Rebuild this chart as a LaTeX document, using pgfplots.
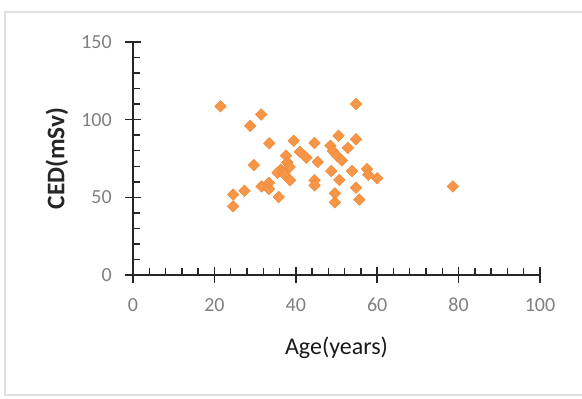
\documentclass[border=0pt]{standalone}
\usepackage{pgfplots}
\pgfplotsset{compat=1.18}
\usepackage{fontspec}
\setmainfont{Carlito}
\definecolor{mk}{HTML}{F79646}
\definecolor{mkedge}{HTML}{F08A3A}
\definecolor{tickgray}{HTML}{7F7F7F}
\definecolor{axisgray}{HTML}{262626}
\begin{document}
\begin{tikzpicture}
\path[use as bounding box] (0,0) rectangle (436.5pt,299.25pt);
\draw[gray!25, line width=0.8pt] (437pt,3pt) -- (3.75pt,3pt) -- (3.75pt,290.25pt) -- (437pt,290.25pt);
\begin{axis}[
  at={(99.75pt,93pt)}, anchor=south west,
  scale only axis, width=305.25pt, height=174.75pt,
  xmin=0, xmax=100, ymin=0, ymax=150,
  axis lines=left, axis line style={axisgray, line width=1.1pt, -},
  xtick={0,20,...,100}, ytick={0,50,100,150},
  minor x tick num=4, minor y tick num=4,
  tick align=inside,
  major tick length=12pt, minor tick length=5.5pt,
  major x tick style={axisgray, line width=1.1pt, yshift=-6pt},
  major y tick style={axisgray, line width=1.1pt, xshift=-6pt},
  minor tick style={axisgray, line width=1.1pt},
  /pgf/number format/assume math mode=true,
  xticklabel style={font=\fontsize{15}{15}\selectfont, text=tickgray, anchor=center, yshift=-22.5pt},
  yticklabel style={font=\fontsize{15}{15}\selectfont, text=tickgray, anchor=east, inner sep=0pt, xshift=-15.75pt},
  xlabel={Age(years)}, ylabel={\bfseries CED(mSv)},
  xlabel style={font=\fontsize{18}{18}\selectfont, text=black!90, at={(axis description cs:0.5,-0.313)}, anchor=center},
  ylabel style={font=\fontsize{19}{19}\selectfont, text=black!85, at={(axis description cs:-0.187,0.5)}, anchor=center},
  clip=false,
]
\addplot[only marks, mark=square*, mark size=3.05pt, mark options={rotate=45, rounded corners=1.5pt, fill=mk, draw=mkedge, line width=0.4pt}] coordinates {
(21.5,108.6) (54.8,110.1) (31.5,103.3) (28.8,96) (33.5,84.8) (39.5,86.4)
(44.6,85) (50.5,89.6) (54.8,87.4) (52.8,81.8) (48.5,83.2) (49.1,79.8)
(50.1,76.9) (51.3,73.8) (41.0,79.3) (42.6,75.5) (45.4,72.8) (37.6,76.8)
(37.9,72.5) (38.5,69.5) (36.3,67.8) (35.5,65.8) (36.8,66) (37.2,64.7) (38.6,61)
(29.7,70.8) (48.7,66.9) (53.8,66.9) (57.5,68.2) (57.8,64.6) (60.0,62.3)
(50.7,61.2) (44.6,61) (44.6,57.7) (33.4,59.3) (31.6,57) (33.4,55.4)
(54.8,56.2) (27.4,54.2) (24.6,51.8) (24.6,44.2) (35.8,50.2) (49.6,52.6)
(49.6,46.8) (55.6,48.5) (78.6,57)
};
\end{axis}
\end{tikzpicture}
\end{document}
